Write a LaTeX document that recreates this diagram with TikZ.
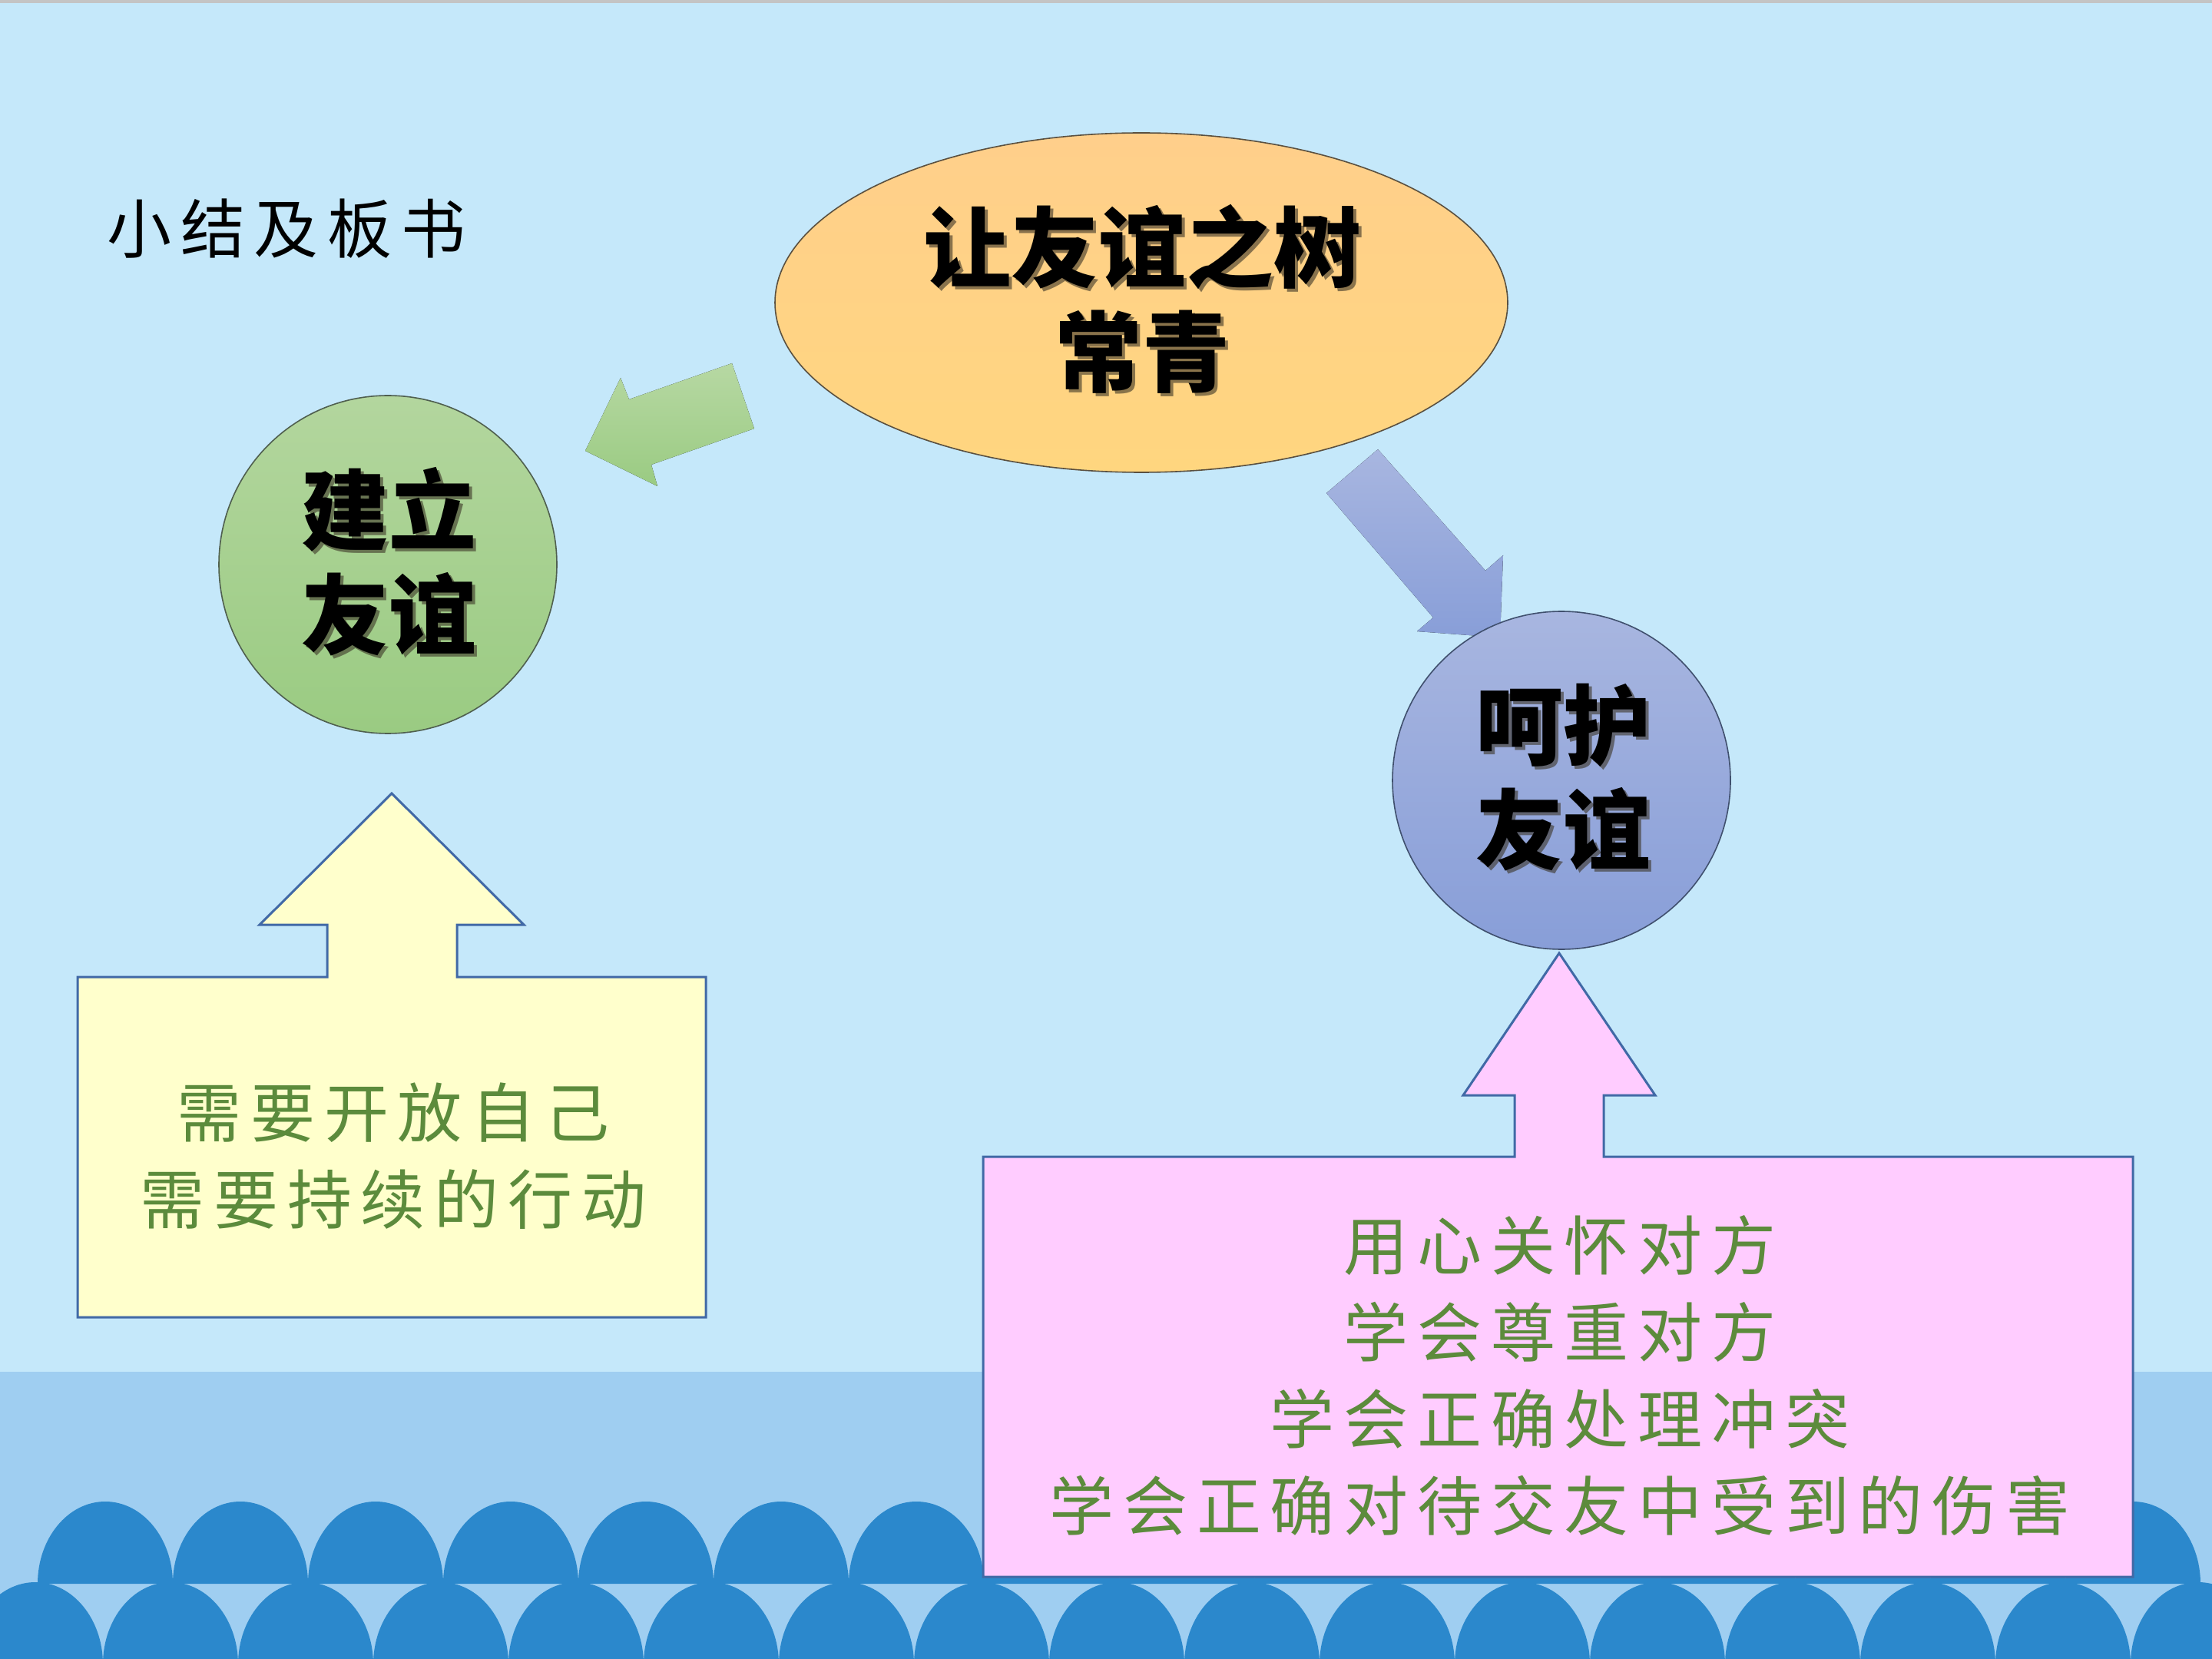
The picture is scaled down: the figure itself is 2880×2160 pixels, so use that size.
\documentclass[tikz,border=0pt]{standalone}
\usepackage{fontspec}
\usetikzlibrary{shapes.geometric}
\newfontfamily\cjk{Noto Sans CJK SC}
\newfontfamily\kai[LetterSpace=14]{Noto Sans CJK SC}
\definecolor{sky}{HTML}{C5E8FA}
\definecolor{sea}{HTML}{9FCEF1}
\definecolor{wavecol}{HTML}{2B88CC}
\definecolor{topline}{HTML}{C4C4C4}
\definecolor{leaf}{HTML}{5C8B3C}
\definecolor{boxedge}{HTML}{4169A6}
\definecolor{shadowbrown}{HTML}{3B3426}
\definecolor{paleyellow}{HTML}{FFFFCC}
\definecolor{palepink}{HTML}{FFCCFF}
\definecolor{greentop}{HTML}{B3D69E}
\definecolor{greenbot}{HTML}{9ACB82}
\definecolor{greenedge}{HTML}{4F5F4F}
\definecolor{bluetop}{HTML}{A8B6E0}
\definecolor{bluebot}{HTML}{889ED8}
\definecolor{blueedge}{HTML}{40506E}
\definecolor{orangetop}{HTML}{FFCF8B}
\definecolor{orangebot}{HTML}{FFD67F}
\definecolor{orangeedge}{HTML}{5A5040}

\begin{document}
\begin{tikzpicture} [x=0.25pt, y=-0.25pt, inner sep=0pt,
        bigtext/.style={font=\cjk\bfseries\fontsize{28.5}{34}\selectfont, align=center},
        bigshadow/.style={bigtext, text=shadowbrown, opacity=.6},
        greentext/.style={font=\kai\fontsize{21}{28.25}\selectfont, align=center, text=leaf},
        wave/.style={fill=wavecol},
        callout/.style={fill=#1, draw=boxedge, line width=.75pt, line join=miter}]
                \useasboundingbox (0,0) rectangle (2880,2160);
                \fill[sky] (0,0) rectangle (2880,2160);
                \fill[sea] (0,1786) rectangle (2880,2160);
                \fill[topline] (0,0) rectangle (2880,4);
                \foreach \k in {0,...,15}
                    \fill[wave] ({137+176*\k},2062) ++(-88,0) arc[start angle=180, end angle=360, x radius=88, y radius=107] -- cycle;
                \foreach \k in {0,...,16}
                    \fill[wave] ({46+176*\k},2167) ++(-88,0) arc[start angle=180, end angle=360, x radius=88, y radius=107] -- cycle;

                \node (title) [font=\kai\fontsize{21}{26}\selectfont] at (373,298) {小结及板书};

                \fill[top color=greentop!95!white, bottom color=greenbot]
                    (953,473) -- (982,558) -- (848,605) -- (856,633) -- (762,587) -- (808,492) -- (819,520) -- cycle;
                \fill[top color=bluetop, bottom color=bluebot]
                    (1794,585) -- (1934,743) -- (1957,723) -- (1953,830) -- (1845,822) -- (1866,804) -- (1727,642) -- cycle;

                \node (tree) [ellipse, minimum width=238.5pt, minimum height=110.5pt, draw=orangeedge, line width=.4pt,
                    top color=orangetop, bottom color=orangebot] at (1486,394) {};
                \node (build) [circle, minimum size=110pt, draw=greenedge, line width=.4pt,
                    top color=greentop, bottom color=greenbot] at (505,735) {};
                \node (keep) [circle, minimum size=110pt, draw=blueedge, line width=.4pt,
                    top color=bluetop, bottom color=bluebot] at (2033,1016) {};

                \node (tree-s) [bigshadow] at (1491,393) {让友谊之树\\常青};
                \node (tree-t) [bigtext] at (1487,389) {让友谊之树\\常青};
                \node (build-s) [bigshadow] at (510,735) {建立\\友谊};
                \node (build-t) [bigtext] at (506,731) {建立\\友谊};
                \node (keep-s) [bigshadow] at (2039,1016) {呵护\\友谊};
                \node (keep-t) [bigtext] at (2035,1012) {呵护\\友谊};

                \filldraw[callout=paleyellow] (101,1272) -- (426,1272) -- (426,1204) -- (338,1204) -- (510,1033) -- (682,1204)
                    -- (595,1204) -- (595,1272) -- (919,1272) -- (919,1715) -- (101,1715) -- cycle;
                \filldraw[callout=palepink] (1280,1506) -- (1972,1506) -- (1972,1426) -- (1905,1426) -- (2030,1241) -- (2155,1426)
                    -- (2088,1426) -- (2088,1506) -- (2777,1506) -- (2777,2053) -- (1280,2053) -- cycle;

                \node (open) [greentext] at (512,1505) {需要开放自己\\需要持续的行动};
                \node (care) [greentext] at (2031,1791) {用心关怀对方\\学会尊重对方\\学会正确处理冲突\\学会正确对待交友中受到的伤害};
            \end{tikzpicture}
\end{document}
